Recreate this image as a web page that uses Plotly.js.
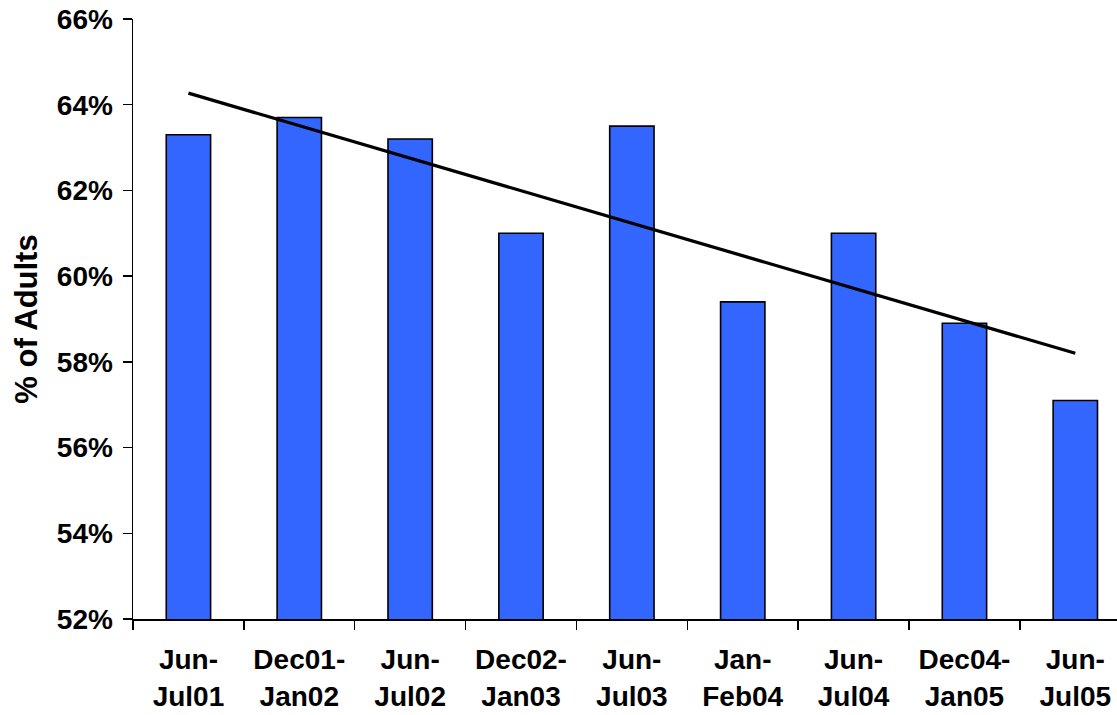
<!DOCTYPE html>
<html>
<head>
<meta charset="utf-8">
<script src="https://cdn.plot.ly/plotly-3.0.1.min.js"></script>
<style>
  html, body { margin: 0; padding: 0; background: #fff; overflow: hidden; }
  #chart { width: 1117px; height: 715px; }
</style>
</head>
<body>
<div id="chart"></div>
<script>
const categories = ["Jun-Jul01", "Dec01-Jan02", "Jun-Jul02", "Dec02-Jan03", "Jun-Jul03", "Jan-Feb04", "Jun-Jul04", "Dec04-Jan05", "Jun-Jul05"];
const tickLabels = ["Jun-<br>Jul01", "Dec01-<br>Jan02", "Jun-<br>Jul02", "Dec02-<br>Jan03", "Jun-<br>Jul03", "Jan-<br>Feb04", "Jun-<br>Jul04", "Dec04-<br>Jan05", "Jun-<br>Jul05"];
const adultsPct = [63.3, 63.7, 63.2, 61.0, 63.5, 59.4, 61.0, 58.9, 57.1];
const trendCats = ["Jun-Jul01", "Jun-Jul05"];
const trendPct = [64.27, 58.2];
const yTicks = [52, 54, 56, 58, 60, 62, 64, 66];

const FONT = "Liberation Sans, Arial, sans-serif";

const traces = [
  {
    type: "bar",
    x: categories,
    y: adultsPct,
    marker: { color: "#3366FF", line: { color: "#000000", width: 1.6 } },
    hoverinfo: "skip"
  },
  {
    type: "scatter",
    mode: "lines",
    x: trendCats,
    y: trendPct,
    line: { color: "#000000", width: 3.3 },
    hoverinfo: "skip"
  }
];

const layout = {
  width: 1117,
  height: 715,
  margin: { l: 133, r: 0, t: 19, b: 96 },
  paper_bgcolor: "#ffffff",
  plot_bgcolor: "#ffffff",
  showlegend: false,
  bargap: 0.6,
  font: { family: FONT, color: "#000000" },
  xaxis: {
    type: "category",
    categoryorder: "array",
    categoryarray: categories,
    range: [-0.5, 8.376],
    tickmode: "array",
    tickvals: categories,
    ticktext: tickLabels,
    tickson: "boundaries",
    ticks: "outside",
    ticklen: 9,
    tickwidth: 1.5,
    tickcolor: "#000000",
    showline: true,
    linecolor: "#000000",
    linewidth: 1.5,
    showgrid: false,
    zeroline: false,
    tickfont: { family: FONT, size: 28, color: "#000000", weight: "bold" },
    ticklabelstandoff: 15,
    automargin: false
  },
  yaxis: {
    range: [52, 66],
    tickmode: "array",
    tickvals: yTicks,
    ticktext: yTicks.map(v => v + "%"),
    ticks: "outside",
    ticklen: 9,
    tickwidth: 1.5,
    tickcolor: "#000000",
    showline: true,
    linecolor: "#000000",
    linewidth: 1.5,
    showgrid: false,
    zeroline: false,
    tickfont: { family: FONT, size: 28, color: "#000000", weight: "bold" },
    ticklabelstandoff: 4,
    automargin: false,
    title: {
      text: "% of Adults",
      font: { family: FONT, size: 31, color: "#000000", weight: "bold" },
      standoff: 10
    }
  }
};

Plotly.newPlot("chart", traces, layout, { staticPlot: true, displayModeBar: false });
</script>
</body>
</html>
